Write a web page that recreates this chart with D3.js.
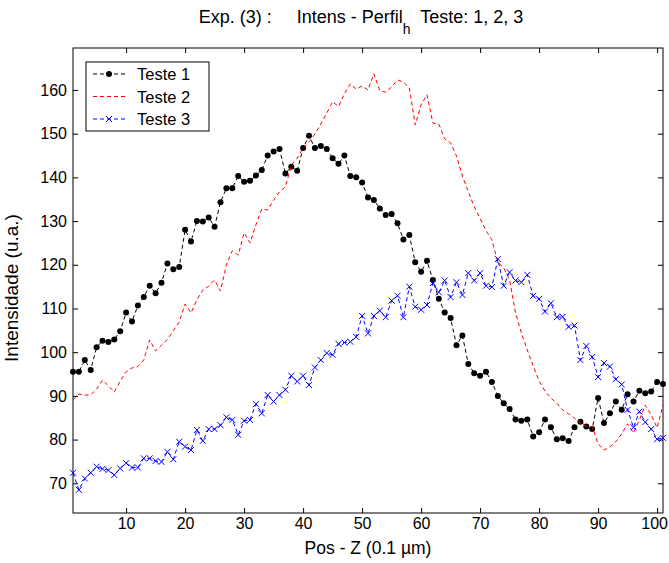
<!DOCTYPE html>
<html>
<head>
<meta charset="utf-8">
<script src="https://cdn.jsdelivr.net/npm/d3@7"></script>
<style>
  body { margin: 0; background: #fff; }
  text { font-family: "Liberation Sans", Arial, sans-serif; fill: #000; }
</style>
</head>
<body>
<svg id="chart"></svg>
<script>
// posicoes (eixo x) e intensidades
const pos = [1, 2, 3, 4, 5, 6, 7, 8, 9, 10, 11, 12, 13, 14, 15, 16, 17, 18, 19, 20,
  21, 22, 23, 24, 25, 26, 27, 28, 29, 30, 31, 32, 33, 34, 35, 36, 37, 38, 39, 40,
  41, 42, 43, 44, 45, 46, 47, 48, 49, 50, 51, 52, 53, 54, 55, 56, 57, 58, 59, 60,
  61, 62, 63, 64, 65, 66, 67, 68, 69, 70, 71, 72, 73, 74, 75, 76, 77, 78, 79, 80,
  81, 82, 83, 84, 85, 86, 87, 88, 89, 90, 91, 92, 93, 94, 95, 96, 97, 98, 99, 100, 101];

const teste1 = [95.5, 95.5, 98.2, 95.9, 101.1, 102.6, 102.3, 102.9, 104.8, 109.1,
  107, 110.7, 112.6, 115.2, 113.5, 115.9, 120.3, 119, 119.5, 128,
  125.3, 130, 129.9, 130.8, 128.7, 134.3, 137.5, 137.5, 140.3, 139,
  139.2, 140.4, 141.7, 145, 145.9, 146.5, 140.9, 142.4, 141.5, 146.7,
  149.5, 146.7, 147.2, 146.5, 144.4, 143.1, 145, 140.3, 140, 138.8,
  135.4, 134.8, 132.9, 131.4, 131.6, 129.5, 125.8, 126.8, 120.6, 118.4,
  120.9, 116.5, 112.2, 109.1, 107.8, 101.6, 103.8, 97.3, 95.2, 94.6,
  95.5, 93.2, 90, 88.3, 87, 84.6, 84.3, 84.6, 80.7, 81.7,
  84.6, 82.8, 80.1, 80.3, 79.7, 82.8, 84.1, 83, 82.4, 89.5,
  83.8, 86, 88.7, 86.8, 90.4, 88.7, 91.2, 90.6, 91, 93.2,
  92.7];

const teste2 = [89.1, 90.4, 90.2, 90.2, 91.6, 93.6, 92.3, 90.9, 93.4, 95.5,
  96.4, 96.7, 98.2, 102.8, 100.3, 101.6, 102.9, 104.9, 106.9, 111,
  109, 112, 114.2, 115.1, 116.5, 114, 120, 123.2, 122.2, 127.3,
  125, 129.1, 132.8, 132.5, 134.8, 136.7, 137.8, 142.8, 144.4, 146.7,
  148.1, 149.9, 152.2, 154.7, 157.3, 156.2, 159.1, 161.4, 160.2, 160.9,
  160, 163.7, 159.8, 159.5, 160.7, 162.3, 161.8, 160.5, 152, 156.6,
  158.9, 152.4, 152.2, 148.8, 147.9, 144.9, 140.3, 136.7, 133.3, 130.6,
  127.8, 125.7, 120.6, 119.3, 116.5, 109, 104.4, 100.5, 96.8, 93.4,
  91.1, 89.5, 88.3, 86.8, 85.9, 84.9, 83.8, 83, 83, 79,
  77.6, 78.3, 79.5, 81.3, 83.6, 81.5, 84.5, 87.9, 85.6, 82.7,
  87.9];

const teste3 = [72.4, 68.5, 71.1, 72.4, 73.8, 73.3, 73.0, 71.9, 73.4, 74.6,
  73.6, 73.6, 75.7, 75.7, 75.1, 74.9, 77.2, 75.5, 79.5, 78.4,
  77.6, 82.2, 79.7, 82.4, 82.4, 83.3, 85.1, 84.5, 81.1, 84.3,
  84.5, 88.1, 86, 90.2, 88.7, 90.2, 91.4, 94.6, 93.3, 94.6,
  92.5, 96.5, 98.2, 99.8, 99.4, 101.9, 102.2, 102.4, 103.5, 108.3,
  104.3, 108.3, 109.5, 108, 111.8, 112.9, 108, 115, 110.4, 109.7,
  110.8, 115.8, 113.7, 116.4, 112.6, 116, 113.1, 118.1, 116.4, 118.1,
  115.2, 114.9, 121.3, 115.2, 118.3, 116.4, 116, 117.7, 112.9, 112.2,
  109.3, 111.2, 108, 108.1, 105.8, 106.1, 98.2, 101.4, 98.9, 94.3,
  97.5, 96.7, 93.8, 92.6, 86.8, 82.8, 86.4, 84, 82.4, 80.1,
  80.4];

const xTicks = [10, 20, 30, 40, 50, 60, 70, 80, 90, 100];
const yTicks = [70, 80, 90, 100, 110, 120, 130, 140, 150, 160];
const nomes = ["Teste 1", "Teste 2", "Teste 3"];

const WIDTH = 669;
const HEIGHT = 563;

const MARGIN = {
  top: 48,
  bottom: 50,
  right: 6,
  left: 73,
};

const svg = d3.select("#chart")
  .attr("width", WIDTH)
  .attr("height", HEIGHT);

const escala_x = d3.scaleLinear()
  .domain([1, 101])
  .range([MARGIN.left, WIDTH - MARGIN.right]);

const escala_y = d3.scaleLinear()
  .domain([63.2, 169.6])
  .range([HEIGHT - MARGIN.bottom, MARGIN.top]);

// eixos estilo matlab: ticks para dentro
const ejeX = d3.axisBottom(escala_x).tickValues(xTicks).tickSizeInner(-5).tickSizeOuter(0).tickPadding(5);
const ejeY = d3.axisLeft(escala_y).tickValues(yTicks).tickSizeInner(-5).tickSizeOuter(0).tickPadding(6);
const ejeXtop = d3.axisTop(escala_x).tickValues(xTicks).tickSizeInner(-5).tickSizeOuter(0).tickFormat("");
const ejeYright = d3.axisRight(escala_y).tickValues(yTicks).tickSizeInner(-5).tickSizeOuter(0).tickFormat("");

function estilo(g) {
  g.select(".domain").remove();
  g.selectAll("line").attr("stroke", "#000");
  g.selectAll("text").attr("font-size", 16).attr("font-family", "Liberation Sans, Arial, sans-serif");
}

const gx = svg.append("g")
  .attr("transform", `translate(0, ${HEIGHT - MARGIN.bottom})`)
  .call(ejeX).call(estilo);
// o rotulo 100 fica colado na borda, como no original
gx.selectAll(".tick text").filter(d => d === 100).attr("dx", -3);

svg.append("g")
  .attr("transform", `translate(${MARGIN.left}, 0)`)
  .call(ejeY).call(estilo);
svg.append("g")
  .attr("transform", `translate(0, ${MARGIN.top})`)
  .call(ejeXtop).call(estilo);
svg.append("g")
  .attr("transform", `translate(${WIDTH - MARGIN.right}, 0)`)
  .call(ejeYright).call(estilo);

svg.append("rect")
  .attr("x", MARGIN.left)
  .attr("y", MARGIN.top)
  .attr("width", WIDTH - MARGIN.right - MARGIN.left)
  .attr("height", HEIGHT - MARGIN.bottom - MARGIN.top)
  .attr("fill", "none")
  .attr("stroke", "#000")
  .attr("stroke-width", 1);

const linha = d3.line()
  .x(d => escala_x(d[0]))
  .y(d => escala_y(d[1]));

const series = [
  { nome: nomes[0], cor: "#000000", valores: teste1, marca: "ponto" },
  { nome: nomes[1], cor: "#ff0000", valores: teste2, marca: null },
  { nome: nomes[2], cor: "#0000ff", valores: teste3, marca: "x" },
];

function desenhaMarca(g, tipo, cor, x, y) {
  if (tipo === "ponto") {
    g.append("circle").attr("cx", x).attr("cy", y).attr("r", 3).attr("fill", cor);
  } else if (tipo === "x") {
    g.append("path")
      .attr("d", `M${x - 3},${y - 3}L${x + 3},${y + 3}M${x - 3},${y + 3}L${x + 3},${y - 3}`)
      .attr("stroke", cor)
      .attr("stroke-width", 1);
  }
}

const plot = svg.append("g");

series.forEach(s => {
  const pts = pos.map((p, i) => [p, s.valores[i]]);
  plot.append("path")
    .datum(pts)
    .attr("d", linha)
    .attr("fill", "none")
    .attr("stroke", s.cor)
    .attr("stroke-width", 1)
    .attr("stroke-dasharray", "4,3");
  const gm = plot.append("g");
  pts.forEach(d => desenhaMarca(gm, s.marca, s.cor, escala_x(d[0]), escala_y(d[1])));
});

// legenda
const leg = svg.append("g");
leg.append("rect")
  .attr("x", 86).attr("y", 62)
  .attr("width", 123).attr("height", 69)
  .attr("fill", "#fff").attr("stroke", "#000");

series.forEach((s, i) => {
  const y = 74 + i * 22.5;
  leg.append("line")
    .attr("x1", 93).attr("x2", 125)
    .attr("y1", y).attr("y2", y)
    .attr("stroke", s.cor)
    .attr("stroke-dasharray", "4,3");
  desenhaMarca(leg, s.marca, s.cor, 109, y);
  leg.append("text")
    .attr("x", 137).attr("y", y + 6)
    .attr("font-size", 16.5)
    .text(s.nome);
});

// titulo e rotulos
const titulo = svg.append("text")
  .attr("x", 361)
  .attr("y", 23)
  .attr("text-anchor", "middle")
  .attr("font-size", 18)
  .style("white-space", "pre");
titulo.append("tspan").text("Exp. (3) :     Intens - Perfil");
titulo.append("tspan").attr("dy", 11).attr("font-size", 14).text("h");
titulo.append("tspan").attr("dy", -11).text("  Teste: 1, 2, 3");

svg.append("text")
  .attr("x", (MARGIN.left + WIDTH - MARGIN.right) / 2)
  .attr("y", 554)
  .attr("text-anchor", "middle")
  .attr("font-size", 17.5)
  .text("Pos - Z (0.1 µm)");

svg.append("text")
  .attr("transform", "translate(18, 288) rotate(-90)")
  .attr("text-anchor", "middle")
  .attr("font-size", 19)
  .text("Intensidade (u.a.)");
</script>
</body>
</html>
